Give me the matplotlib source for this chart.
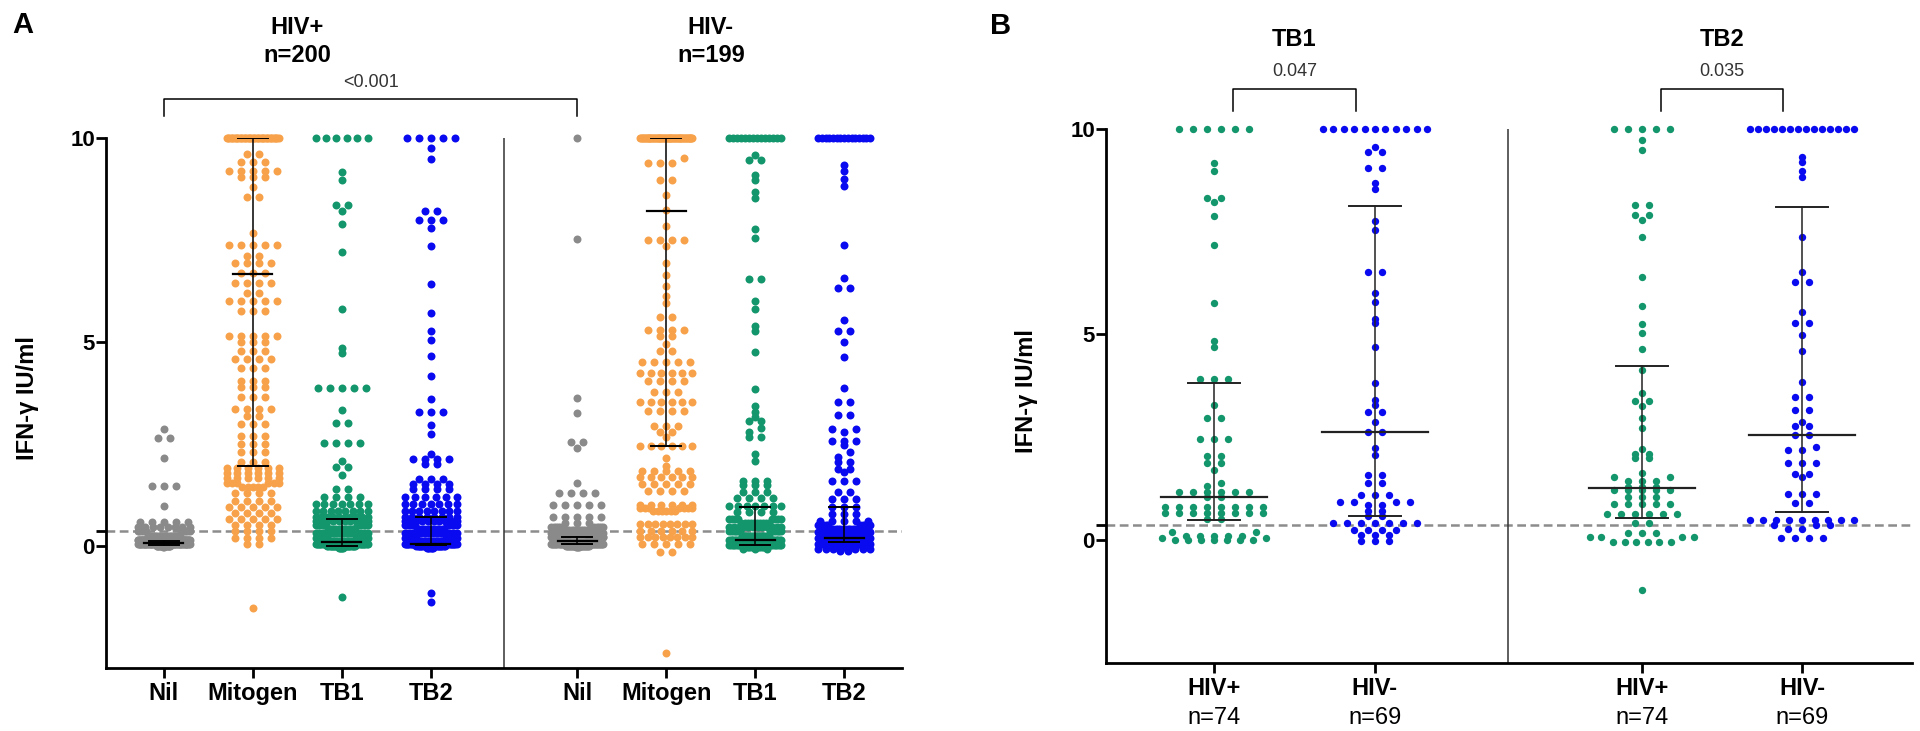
import numpy as np
import matplotlib
matplotlib.use('Agg')
import matplotlib.pyplot as plt
from matplotlib.transforms import blended_transform_factory

plt.rcParams['font.family'] = ['Liberation Sans', 'DejaVu Sans']

# colours
GRAY = '#8a8a8a'
ORANGE = '#f7a24b'
GREEN = '#13966c'
BLUE = '#0a0af0'

#### panel A data (value, how many points at that value), HIV+ n=200 / HIV- n=199
nil_pos_v = [2.86, 2.64, 2.15, 1.47, 0.98, 0.58, 0.45, 0.35, 0.25, 0.15, 0.08, 0.03, 0.0, -0.03]
nil_pos_n = [1, 2, 1, 3, 1, 5, 8, 12, 20, 35, 50, 45, 15, 2]
mit_pos_v = [10, 9.6, 9.4, 9.2, 9.05, 8.8, 8.55, 7.67, 7.38, 7.1, 6.94, 6.7, 6.45, 6.2, 6.0, 5.75,
             5.14, 5.0, 4.78, 4.57, 4.37, 4.05, 3.9, 3.64, 3.35, 3.18, 2.98, 2.69, 2.49, 2.3, 2.05,
             1.9, 1.78, 1.66, 1.55, 1.43, 1.3, 1.1, 0.95, 0.8, 0.65, 0.5, 0.35, 0.2, 0.05, -1.52]
mit_pos_n = [41, 2, 3, 5, 3, 1, 2, 1, 5, 2, 4, 3, 4, 2, 5, 3,
             5, 3, 3, 4, 3, 3, 3, 3, 4, 2, 3, 3, 3, 3, 3,
             6, 6, 6, 6, 5, 4, 4, 5, 4, 5, 4, 4, 4, 2, 1]
tb1_pos_v = [10, 9.17, 8.97, 8.36, 8.22, 7.9, 7.2, 5.8, 4.86, 4.72, 3.88, 3.33, 3.0, 2.52, 2.08,
             1.93, 1.74, 1.39, 1.2, 1.03, 0.85, 0.7, 0.6, 0.5, 0.4, 0.3, 0.2, 0.12, 0.05, 0.0,
             -0.05, -1.25]
tb1_pos_n = [6, 1, 1, 2, 1, 1, 1, 1, 1, 1, 5, 1, 2, 4, 1,
             2, 1, 2, 4, 7, 8, 10, 10, 12, 14, 16, 18, 20, 21, 20,
             5, 1]
tb2_pos_v = [10, 9.75, 9.48, 8.2, 8.0, 7.8, 7.36, 6.42, 5.7, 5.27, 5.05, 4.65, 4.16, 3.6, 3.27,
             2.96, 2.74, 2.25, 2.13, 2.0, 1.64, 1.52, 1.4, 1.2, 1.03, 0.86, 0.7, 0.6, 0.5, 0.4,
             0.3, 0.2, 0.12, 0.05, 0.0, -0.05, -1.17, -1.39]
tb2_pos_n = [5, 1, 1, 2, 3, 1, 1, 1, 1, 1, 1, 1, 1, 1, 3,
             1, 1, 1, 4, 2, 3, 4, 4, 6, 7, 8, 8, 10, 10, 12,
             14, 16, 18, 20, 19, 6, 1, 1]
nil_neg_v = [10, 7.53, 3.62, 3.25, 2.54, 2.4, 1.54, 1.3, 1.0, 0.7, 0.55, 0.45, 0.38, 0.3, 0.22,
             0.15, 0.1, 0.05, 0.0, -0.04]
nil_neg_n = [1, 1, 1, 1, 2, 1, 1, 4, 5, 5, 3, 10, 14, 18, 22, 28, 30, 28, 20, 4]
mit_neg_v = [10, 9.5, 9.38, 8.97, 8.6, 8.24, 7.83, 7.5, 7.34, 6.94, 6.65, 6.36, 6.12, 5.95, 5.6,
             5.3, 5.14, 4.94, 4.78, 4.5, 4.23, 4.03, 3.77, 3.52, 3.3, 2.93, 2.8, 2.66, 2.45, 2.15,
             1.96, 1.83, 1.68, 1.52, 1.35, 1.0, 0.92, 0.85, 0.54, 0.37, 0.22, 0.05, -0.15, -2.62]
mit_neg_n = [58, 1, 3, 2, 1, 1, 1, 4, 1, 1, 1, 1, 1, 1, 2,
             4, 2, 1, 2, 5, 6, 4, 3, 6, 4, 3, 2, 1, 6, 1,
             1, 5, 6, 5, 4, 6, 7, 6, 8, 6, 8, 5, 2, 1]
tb1_neg_v = [10, 9.58, 9.46, 9.1, 8.97, 8.68, 8.53, 7.77, 7.55, 6.53, 6.0, 5.8, 5.38, 5.26, 4.74,
             3.84, 3.42, 3.28, 3.15, 3.06, 2.88, 2.79, 2.66, 2.25, 2.08, 1.59, 1.49, 1.32, 1.17,
             0.98, 0.83, 0.65, 0.55, 0.45, 0.35, 0.25, 0.15, 0.08, 0.02, -0.03, -0.08]
tb1_neg_n = [14, 1, 2, 1, 1, 1, 1, 1, 1, 2, 1, 1, 1, 1, 1,
             1, 1, 1, 1, 2, 1, 1, 2, 1, 1, 3, 3, 3, 4,
             7, 4, 8, 10, 12, 14, 16, 18, 20, 20, 12, 3]
tb2_neg_v = [10, 9.34, 9.2, 9.0, 8.83, 7.38, 6.57, 6.33, 5.53, 5.26, 5.0, 4.62, 3.86, 3.52, 3.2,
             2.86, 2.78, 2.57, 2.47, 2.3, 2.18, 2.05, 1.88, 1.81, 1.59, 1.32, 1.15, 0.95, 0.78,
             0.61, 0.5, 0.42, 0.34, 0.26, 0.18, 0.1, 0.04, -0.02, -0.08, -0.12]
tb2_neg_n = [15, 1, 1, 1, 1, 1, 1, 2, 1, 2, 1, 1, 1, 2, 2,
             2, 1, 3, 1, 1, 1, 2, 2, 1, 3, 2, 3, 3, 3,
             5, 10, 12, 14, 16, 18, 20, 20, 15, 6, 2]

a_labels = ['Nil', 'Mitogen', 'TB1', 'TB2', 'Nil', 'Mitogen', 'TB1', 'TB2']
a_pos = [0, 1, 2, 3, 4.65, 5.65, 6.65, 7.65]
a_colors = [GRAY, ORANGE, GREEN, BLUE, GRAY, ORANGE, GREEN, BLUE]
a_vals = [(nil_pos_v, nil_pos_n), (mit_pos_v, mit_pos_n), (tb1_pos_v, tb1_pos_n), (tb2_pos_v, tb2_pos_n),
          (nil_neg_v, nil_neg_n), (mit_neg_v, mit_neg_n), (tb1_neg_v, tb1_neg_n), (tb2_neg_v, tb2_neg_n)]
# median and interquartile range
a_med = [0.07, 6.67, 0.08, 0.05, 0.12, 8.2, 0.15, 0.2]
a_q1 = [0.02, 1.95, 0.0, 0.02, 0.05, 2.45, 0.02, 0.1]
a_q3 = [0.12, 10, 0.66, 0.71, 0.22, 10, 0.95, 0.95]

#### panel B data, HIV+ n=74 / HIV- n=69
b_tb1_pos_v = [10, 9.17, 8.97, 8.33, 8.22, 7.88, 7.18, 5.77, 4.83, 4.7, 3.92, 3.28, 2.97, 2.46, 2.04,
               1.87, 1.7, 1.38, 1.3, 1.17, 1.05, 0.8, 0.65, 0.5, 0.2, 0.1, 0.05, 0.0]
b_tb1_pos_n = [6, 1, 1, 2, 1, 1, 1, 1, 1, 1, 3, 1, 2, 3, 2,
               2, 1, 1, 1, 6, 2, 8, 8, 2, 2, 5, 2, 7]
b_tb1_neg_v = [10, 9.57, 9.45, 9.05, 8.68, 8.53, 7.77, 7.55, 6.53, 6.0, 5.8, 5.37, 5.27, 4.7, 3.82,
               3.4, 3.28, 3.11, 2.87, 2.63, 2.23, 2.07, 1.58, 1.38, 1.1, 0.93, 0.85, 0.7, 0.57,
               0.41, 0.25, 0.12, -0.02]
b_tb1_neg_n = [11, 1, 2, 2, 1, 1, 1, 1, 2, 1, 1, 1, 1, 1, 1,
               1, 1, 2, 1, 2, 1, 1, 2, 2, 3, 4, 2, 2, 2,
               7, 4, 3, 3]
b_tb2_pos_v = [10, 9.73, 9.49, 8.15, 7.9, 7.79, 7.37, 6.4, 5.69, 5.26, 5.03, 4.64, 4.14, 3.58, 3.38,
               3.26, 2.97, 2.72, 2.21, 2.09, 1.99, 1.63, 1.54, 1.43, 1.29, 1.22, 1.05, 0.87, 0.63,
               0.41, 0.17, 0.07, -0.05, -1.22]
b_tb2_pos_n = [5, 1, 1, 2, 2, 1, 1, 1, 1, 1, 1, 1, 1, 1, 2,
               1, 1, 1, 1, 2, 2, 1, 2, 3, 3, 5, 3, 5, 6,
               2, 3, 4, 6, 1]
b_tb2_neg_v = [10, 9.33, 9.2, 8.98, 8.83, 7.37, 6.53, 6.28, 5.54, 5.27, 4.99, 4.6, 3.84, 3.48, 3.16,
               2.87, 2.77, 2.55, 2.26, 2.19, 1.87, 1.61, 1.53, 1.12, 0.9, 0.47, 0.37, 0.26, 0.05]
b_tb2_neg_n = [14, 1, 1, 1, 1, 1, 1, 2, 1, 2, 1, 1, 1, 2, 2,
               1, 2, 2, 1, 2, 3, 2, 1, 3, 2, 9, 3, 2, 4]

b_labels = ['HIV+', 'HIV-', 'HIV+', 'HIV-']
b_nlabels = ['n=74', 'n=69', 'n=74', 'n=69']
b_pos = [0, 1, 2.658, 3.652]
b_colors = [GREEN, BLUE, GREEN, BLUE]
b_vals = [(b_tb1_pos_v, b_tb1_pos_n), (b_tb1_neg_v, b_tb1_neg_n),
          (b_tb2_pos_v, b_tb2_pos_n), (b_tb2_neg_v, b_tb2_neg_n)]
b_med = [1.05, 2.63, 1.26, 2.55]
b_q1 = [0.49, 0.57, 0.54, 0.68]
b_q3 = [3.82, 8.13, 4.23, 8.1]

CUTOFF = 0.35


def swarm_px(vals, row_h, step, half_w):
    # points falling in the same row are spread sideways, lowest value in the middle
    rows = np.round(vals / row_h).astype(int)
    offs = np.zeros(len(vals))
    for r in np.unique(rows):
        idx = np.flatnonzero(rows == r)
        idx = idx[np.argsort(vals[idx], kind='stable')]
        n = len(idx)
        gap = step
        if n > 1 and (n - 1) * step > 2 * half_w:
            gap = 2.0 * half_w / (n - 1)
        slots = (np.arange(n) - (n - 1) / 2.0) * gap
        slots = slots[np.argsort(np.abs(slots), kind='stable')]
        offs[idx] = slots
    return offs


def draw_swarm(ax, x, v, n, color, step, half_w, size):
    vals = np.repeat(np.array(v, float), n)
    t = ax.transData
    ppx = t.transform((1, 0))[0] - t.transform((0, 0))[0]
    offs = swarm_px(vals, 0.15, step, half_w) / ppx
    ax.scatter(x + offs, vals, s=size, c=color, linewidths=0, zorder=2, clip_on=False)


def draw_bar(ax, x, med, lo, hi, wmed, wcap, color):
    ax.plot([x, x], [lo, hi], color=color, lw=1.1, zorder=3)
    ax.plot([x - wcap, x + wcap], [lo, lo], color=color, lw=1.4, zorder=3)
    ax.plot([x - wcap, x + wcap], [hi, hi], color=color, lw=1.4, zorder=3)
    ax.plot([x - wmed, x + wmed], [med, med], color=color, lw=1.6, zorder=3)


def style_axes(ax):
    for s in ['top', 'right']:
        ax.spines[s].set_visible(False)
    for s in ['left', 'bottom']:
        ax.spines[s].set_linewidth(2)
    ax.set_ylim(-3, 10)
    ax.set_yticks([0, 5, 10], labels=['0', '5', '10'], fontsize=16, fontweight='bold')
    ax.set_yticks([CUTOFF], minor=True)
    ax.tick_params(axis='y', which='both', length=7, width=2, pad=1)
    ax.tick_params(axis='x', length=7, width=2, pad=3)
    ax.axhline(CUTOFF, color='#8c8c8c', lw=1.8, dashes=(3.5, 1.8), zorder=1)
    ax.set_ylabel('IFN-γ IU/ml', fontsize=17, fontweight='bold')
    ax.yaxis.set_label_coords(-0.084, 0.51)


fig = plt.figure(figsize=(19.2, 7.31), dpi=100)

#### 第一块 panel A
axA = fig.add_axes([0.05521, 0.08618, 0.41458, 0.72503])
axA.set_xlim(-0.65, 8.3)
style_axes(axA)
axA.set_xticks(a_pos, labels=a_labels, fontsize=17, fontweight='bold')
axA.axvline(3.83, color='#333333', lw=1.1, zorder=1)

for x, (v, n), c in zip(a_pos, a_vals, a_colors):
    draw_swarm(axA, x, v, n, c, 12, 26, 33)
for x, m, lo, hi in zip(a_pos, a_med, a_q1, a_q3):
    draw_bar(axA, x, m, lo, hi, 0.22, 0.17, 'black')

trA = blended_transform_factory(axA.transData, fig.transFigure)
axA.text(1.5, 1 - 27 / 731, 'HIV+', transform=trA, ha='center', va='center', fontsize=17, fontweight='bold')
axA.text(1.5, 1 - 55 / 731, 'n=200', transform=trA, ha='center', va='center', fontsize=17, fontweight='bold')
axA.text(6.15, 1 - 27 / 731, 'HIV-', transform=trA, ha='center', va='center', fontsize=17, fontweight='bold')
axA.text(6.15, 1 - 55 / 731, 'n=199', transform=trA, ha='center', va='center', fontsize=17, fontweight='bold')
# bracket Nil HIV+ vs Nil HIV-
axA.plot([0, 0, 4.65, 4.65], [10.54, 10.95, 10.95, 10.54], color='black', lw=1.1, clip_on=False)
axA.text(2.33, 11.37, '<0.001', ha='center', va='center', fontsize=13, color='#333333')

#### 第二块 panel B
axB = fig.add_axes([0.57604, 0.09302, 0.41979, 0.73050])
axB.set_xlim(-0.67, 4.335)
style_axes(axB)
axB.set_xticks(b_pos, labels=b_labels, fontsize=17, fontweight='bold')
axB.axvline(1.826, color='#333333', lw=1.1, zorder=1)

for x, (v, n), c in zip(b_pos, b_vals, b_colors):
    draw_swarm(axB, x, v, n, c, 14, 52, 28)
for x, m, lo, hi in zip(b_pos, b_med, b_q1, b_q3):
    draw_bar(axB, x, m, lo, hi, 0.33, 0.16, '#222222')

trB = blended_transform_factory(axB.transData, fig.transFigure)
for x, lab in zip(b_pos, b_nlabels):
    axB.text(x, 1 - 718 / 731, lab, transform=trB, ha='center', va='center', fontsize=17)

for (x0, x1), title, p in [((0, 1), 'TB1', '0.047'), ((2.658, 3.652), 'TB2', '0.035')]:
    xm = (x0 + x1) / 2
    axB.plot([x0 + 0.12, x0 + 0.12, x1 - 0.12, x1 - 0.12], [10.44, 10.97, 10.97, 10.44],
             color='black', lw=1.1, clip_on=False)
    axB.text(xm, 11.39, p, ha='center', va='center', fontsize=13, color='#333333')
    axB.text(xm, 12.19, title, ha='center', va='center', fontsize=17, fontweight='bold')

fig.text(23 / 1920, 1 - 25 / 731, 'A', ha='center', va='center', fontsize=21, fontweight='bold')
fig.text(1001 / 1920, 1 - 26 / 731, 'B', ha='center', va='center', fontsize=21, fontweight='bold')

fig.savefig('out.png', dpi=100)
